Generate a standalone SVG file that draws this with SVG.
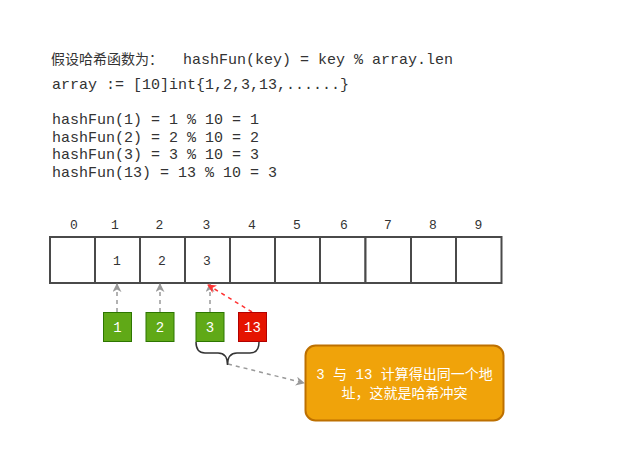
<svg xmlns="http://www.w3.org/2000/svg" width="629" height="470" viewBox="0 0 629 470">
<defs>
<style>
.mono{font-family:"Liberation Mono","Noto Sans CJK SC",monospace;fill:#333;}
.code{font-size:15px;}
.idx{font-size:13px;text-anchor:middle;}
.cell{fill:#fff;stroke:#4a4a4a;stroke-width:2;}
.green{fill:#60a917;stroke:#2d7600;stroke-width:1;}
.red{fill:#e51400;stroke:#b20000;stroke-width:1;}
.wt{font-family:"Liberation Mono","Noto Sans CJK SC",monospace;font-size:14px;fill:#fff;text-anchor:middle;}
.dash{fill:none;stroke:#999;stroke-width:1.5;stroke-dasharray:4 4;}
.dashr{fill:none;stroke:#ff3333;stroke-width:1.5;stroke-dasharray:4 4;}
.note{font-family:"Liberation Mono","Noto Sans CJK SC",monospace;font-size:14px;fill:#fff;text-anchor:middle;}
</style>
<marker id="ag" viewBox="0 0 10 10" refX="9" refY="5" markerWidth="9" markerHeight="9" markerUnits="userSpaceOnUse" orient="auto">
<path d="M0,0 L10,5 L0,10 L3,5 Z" fill="#999"/>
</marker>
<marker id="ar" viewBox="0 0 10 10" refX="9" refY="5" markerWidth="9" markerHeight="9" markerUnits="userSpaceOnUse" orient="auto">
<path d="M0,0 L10,5 L0,10 L3,5 Z" fill="#ff3333"/>
</marker>
</defs>
<rect width="629" height="470" fill="#fff"/>

<g id="code">
<text x="51" y="64" style="font-family:'Noto Sans CJK SC','Liberation Sans',sans-serif;font-size:14px;fill:#333">假设哈希函数为：</text>
<text x="183" y="64" class="mono code">hashFun(key) = key % array.len</text>
<text x="52" y="89" class="mono code">array := [10]int{1,2,3,13,......}</text>
<text x="52" y="124" class="mono code">hashFun(1) = 1 % 10 = 1</text>
<text x="52" y="141.5" class="mono code">hashFun(2) = 2 % 10 = 2</text>
<text x="52" y="159" class="mono code">hashFun(3) = 3 % 10 = 3</text>
<text x="52" y="176.5" class="mono code">hashFun(13) = 13 % 10 = 3</text>
</g>

<g id="indices" class="mono idx">
<text x="74" y="229">0</text>
<text x="115" y="229">1</text>
<text x="159.5" y="229">2</text>
<text x="206.5" y="229">3</text>
<text x="252" y="229">4</text>
<text x="297" y="229">5</text>
<text x="344" y="229">6</text>
<text x="388" y="229">7</text>
<text x="433" y="229">8</text>
<text x="478.5" y="229">9</text>
</g>

<g id="array">
<rect class="cell" x="50" y="237" width="45" height="46"/>
<rect class="cell" x="95" y="237" width="45" height="46"/>
<rect class="cell" x="140" y="237" width="45" height="46"/>
<rect class="cell" x="185" y="237" width="45" height="46"/>
<rect class="cell" x="230" y="237" width="45" height="46"/>
<rect class="cell" x="275" y="237" width="45" height="46"/>
<rect class="cell" x="320" y="237" width="45.5" height="46"/>
<rect class="cell" x="365.5" y="237" width="45.5" height="46"/>
<rect class="cell" x="411" y="237" width="45" height="46"/>
<rect class="cell" x="456" y="237" width="45.5" height="46"/>
<g class="mono idx">
<text x="117" y="265">1</text>
<text x="162" y="265">2</text>
<text x="207" y="265">3</text>
</g>
</g>

<g id="connectors">
<line class="dash" x1="117" y1="312" x2="117" y2="284" marker-end="url(#ag)"/>
<line class="dash" x1="160" y1="312" x2="160" y2="284" marker-end="url(#ag)"/>
<line class="dash" x1="210" y1="312" x2="210" y2="284" marker-end="url(#ag)"/>
<line class="dashr" x1="252" y1="312" x2="208" y2="285" marker-end="url(#ar)"/>
<line class="dash" x1="228" y1="364" x2="304" y2="383" marker-end="url(#ag)"/>
</g>

<g id="box1"><rect class="green" x="103.5" y="312.5" width="28" height="29"/><text class="wt" x="117.5" y="332">1</text></g>
<g id="box2"><rect class="green" x="146" y="312.5" width="28" height="29"/><text class="wt" x="160" y="332">2</text></g>
<g id="box3"><rect class="green" x="196" y="312.5" width="28" height="29"/><text class="wt" x="210" y="332">3</text></g>
<g id="box13"><rect class="red" x="238.5" y="312.5" width="28" height="29"/><text class="wt" x="252.5" y="332">13</text></g>

<g id="brace">
<path d="M196,342 Q196,353 205,353 L218,353 Q227.5,353 227.5,365 Q227.5,353 237,353 L250,353 Q259,353 259,342" fill="none" stroke="#333" stroke-width="1.5"/>
</g>

<g id="note">
<rect x="305.5" y="345.5" width="198" height="75" rx="10" ry="10" fill="#f0a30a" stroke="#bd7000" stroke-width="2"/>
<text class="note" x="404.5" y="379">3 与 13 计算得出同一个地</text>
<text class="note" x="404.5" y="398">址，这就是哈希冲突</text>
</g>
</svg>
